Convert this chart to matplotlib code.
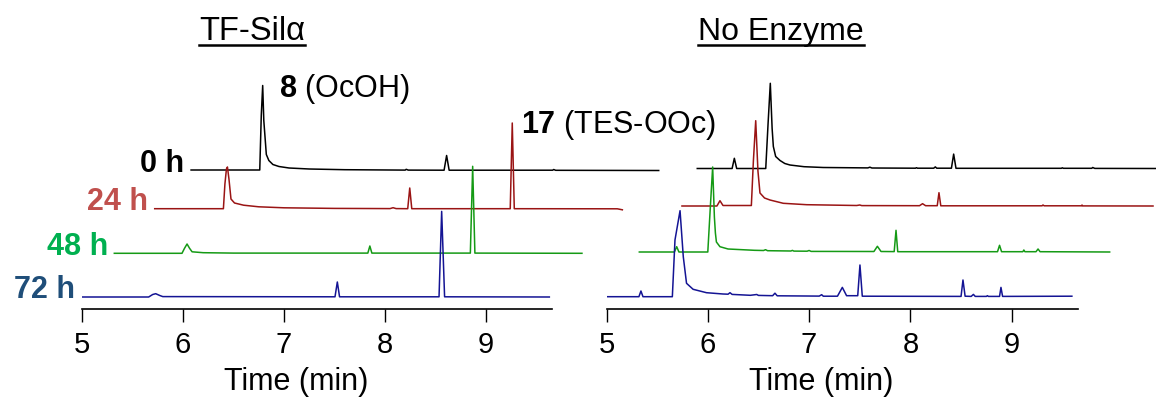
import matplotlib.pyplot as plt
from matplotlib.lines import Line2D

plt.rcParams['font.family'] = ['Liberation Sans', 'DejaVu Sans']
plt.rcParams['mathtext.fontset'] = 'custom'
plt.rcParams['mathtext.rm'] = 'Liberation Sans'
plt.rcParams['mathtext.bf'] = 'Liberation Sans:bold'

# chromatogram traces: (time in min, signal)
tf_0h = [(6.08, 0.5), (6.76, 0.5), (6.775, 55), (6.789, 85), (6.80, 50), (6.825, 16),
         (6.85, 10), (6.89, 6), (6.95, 4), (7.05, 2.5), (7.25, 1.5), (7.6, 0.8),
         (8.2, 0.4), (8.21, 1.2), (8.23, 0.4), (8.585, 0.3), (8.61, 15), (8.635, 0.3),
         (9.66, 0.3), (9.67, 1), (9.69, 0.2), (10.71, 0)]
tf_24h = [(5.72, 0.3), (6.40, 0.3), (6.415, 25), (6.43, 40), (6.44, 42), (6.455, 30),
          (6.475, 10), (6.51, 6), (6.6, 3.8), (6.75, 2.2), (7.0, 1.2), (7.5, 0.6),
          (8.05, 0.4), (8.08, 1.3), (8.11, 0.4), (8.225, 0.3), (8.245, 21), (8.265, 0.3),
          (9.24, 0.3), (9.26, 86), (9.28, 0.3), (10.3, 0.2), (10.35, -0.8)]
tf_48h = [(5.32, 0), (5.99, 0), (6.015, 5), (6.04, 9.3), (6.065, 5), (6.09, 1.5),
          (6.2, 0.6), (6.5, 0.2), (7.83, 0.2), (7.85, 7.3), (7.87, 0.2), (8.845, 0.2),
          (8.868, 87), (8.89, 0.2), (9.95, 0)]
tf_72h = [(5.0, 0), (5.66, 0), (5.70, 2.5), (5.73, 3.3), (5.77, 1.5), (5.80, 0.4),
          (7.505, 0.2), (7.528, 15), (7.55, 0.2), (8.535, 0.2), (8.561, 85.6),
          (8.59, 0.2), (9.627, 0)]

ne_0h = [(5.896, 0), (6.24, 0), (6.262, 10.2), (6.285, 0), (6.572, 0), (6.595, 45),
         (6.617, 85.2), (6.635, 40), (6.647, 22), (6.67, 12), (6.713, 8), (6.76, 5),
         (6.811, 3.5), (6.95, 1.8), (7.14, 1), (7.58, 0.6), (7.6, 1.3), (7.62, 0.5),
         (8.05, 0.3), (8.06, 0.8), (8.07, 0.3), (8.23, 0.3), (8.246, 1.6), (8.26, 0.3),
         (8.405, 0.3), (8.427, 14.4), (8.45, 0.2), (9.49, 0.2), (9.5, 0.7), (9.51, 0.2),
         (9.79, 0.2), (9.80, 1), (9.82, 0.1), (10.45, 0)]
ne_24h = [(5.745, 0), (6.09, 0), (6.12, 5.3), (6.15, 0.5), (6.43, 0.5), (6.45, 45),
          (6.473, 85.3), (6.495, 35), (6.515, 13), (6.56, 8), (6.614, 6), (6.745, 2.7),
          (6.976, 1.3), (7.47, 0.5), (7.5, 1), (7.52, 0.4), (8.09, 0.3), (8.12, 2.3),
          (8.15, 0.3), (8.265, 0.3), (8.282, 13.3), (8.30, 0.2), (9.3, 0.2), (9.309, 1),
          (9.32, 0.2), (9.69, 0.2), (9.694, 1), (9.70, 0.1), (10.395, 0)]
ne_48h = [(5.324, 0), (5.67, 0), (5.693, 5.3), (5.715, 0), (6.0, 0), (6.025, 45),
          (6.048, 85), (6.065, 35), (6.075, 19), (6.085, 10), (6.12, 5.3), (6.2, 3),
          (6.46, 1.7), (6.55, 1.5), (6.57, 2.3), (6.59, 1.3), (6.82, 1), (6.835, 1.6),
          (6.85, 0.9), (6.98, 0.8), (7.0, 1.5), (7.02, 0.6), (7.64, 0.5), (7.674, 5.7),
          (7.71, 0.5), (7.84, 0.4), (7.858, 21.7), (7.875, 0.3), (8.86, 0.3), (8.88, 6.7),
          (8.90, 0.3), (9.11, 0.3), (9.12, 2), (9.13, 0.3), (9.24, 0.3), (9.26, 3),
          (9.28, 0.3), (9.967, 0)]
ne_72h = [(4.968, 0), (5.32, 0), (5.34, 5.7), (5.36, 0), (5.65, 0), (5.676, 56.7),
          (5.726, 86), (5.758, 40), (5.79, 13.4), (5.855, 7.4), (5.987, 4), (6.15, 2.7),
          (6.2, 2.5), (6.219, 4), (6.24, 2.3), (6.42, 1.4), (6.483, 2.2), (6.5, 1.3),
          (6.64, 1), (6.663, 3.5), (6.685, 0.9), (7.1, 0.6), (7.124, 2), (7.14, 0.5),
          (7.28, 0.5), (7.328, 9.3), (7.37, 1), (7.48, 1), (7.502, 31.7), (7.525, 0.5),
          (8.5, 0.3), (8.519, 16.7), (8.54, 0.5), (8.6, 0.3), (8.622, 2.3), (8.64, 0.3),
          (8.75, 0.3), (8.76, 1), (8.77, 0.3), (8.88, 0.3), (8.894, 9.3), (8.91, 0.3),
          (9.594, 0.5)]

hours = ['0 h', '24 h', '48 h', '72 h']
titles = ['TF-Silα', 'No Enzyme']
time_ticks = [5, 6, 7, 8, 9]

label_colors = ['black', '#c0504d', '#00b050', '#1f4e79']
trace_colors = ['black', '#9a1414', '#159a15', '#141494']

W, H = 1156, 398
fig = plt.figure(figsize=(W / 100, H / 100), dpi=100)


def make_axes(x0, xmax, px_per_min):
    ax = fig.add_axes([x0 / W, (H - 309) / H, (xmax - 5) * px_per_min / W, 300 / H])
    ax.set_xlim(5, xmax)
    ax.set_ylim(0, 300)
    ax.patch.set_visible(False)
    for s in ['left', 'right', 'top']:
        ax.spines[s].set_visible(False)
    ax.spines['bottom'].set_bounds(5, 9.65)
    ax.spines['bottom'].set_linewidth(1.2)
    ax.set_yticks([])
    ax.set_xticks(time_ticks)
    ax.tick_params(axis='x', direction='out', length=9.5, width=1, labelsize=21, pad=6.5)
    ax.text(7.12, -0.243, 'Time (min)', transform=ax.get_xaxis_transform(),
            ha='center', va='center', fontsize=22)
    return ax


def draw_traces(ax, traces, offsets, with_labels):
    for i, tr in enumerate(traces):
        t = [p[0] for p in tr]
        s = [p[1] + offsets[i] for p in tr]
        ax.plot(t, s, color=trace_colors[i], lw=1.1)
        if with_labels:
            ax.text(t[0] - 0.065, offsets[i] - 1.5, hours[i], ha='right', va='baseline',
                    fontsize=22, fontweight='bold', color=label_colors[i])


ax_l = make_axes(82, 10.8, 101)
ax_r = make_axes(606.5, 10.5, 101.3)

draw_traces(ax_l, [tf_0h, tf_24h, tf_48h, tf_72h], [138.5, 100, 55.7, 12], True)
draw_traces(ax_r, [ne_0h, ne_24h, ne_48h, ne_72h], [140.5, 103, 57, 12.3], False)

ax_l.text(6.95, 212.3, r'$\mathbf{8}$ (OcOH)', fontsize=22, va='baseline')
ax_l.text(9.35, 175.7, r'$\mathbf{17}$ (TES-OOc)', fontsize=22, va='baseline')

# underlined panel titles
title_objs = [fig.text(252 / W, 1 - 40 / H, titles[0], ha='center', va='baseline', fontsize=23.5),
              fig.text(781 / W, 1 - 40 / H, titles[1], ha='center', va='baseline', fontsize=23)]
fig.canvas.draw()
for t in title_objs:
    bb = t.get_window_extent()
    fig.add_artist(Line2D([bb.x0 / W, bb.x1 / W], [1 - 45 / H] * 2,
                          transform=fig.transFigure, color='black', lw=1.8))

fig.savefig('out.png', dpi=100)
